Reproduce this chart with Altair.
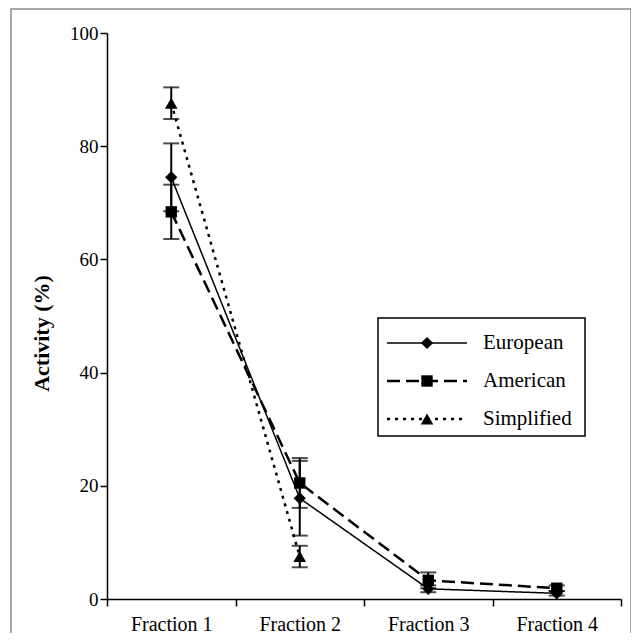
import altair as alt
import pandas as pd

categories = ["Fraction 1", "Fraction 2", "Fraction 3", "Fraction 4"]
series_names = ["European", "American", "Simplified"]
european = [74.5, 17.8, 1.8, 1.0]
european_err = [6.0, 6.6, 0.6, 0.4]
american = [68.4, 20.5, 3.3, 1.9]
american_err = [4.8, 4.4, 1.4, 0.5]
simplified = [87.6, 7.5]
simplified_err = [2.8, 1.9]
y_ticks = [0, 20, 40, 60, 80, 100]

rows = []
for name, vals, errs in zip(series_names, [european, american, simplified],
                            [european_err, american_err, simplified_err]):
    for cat, v, e in zip(categories, vals, errs):
        rows.append(dict(series=name, fraction=cat, value=v, lo=v - e, hi=v + e))
df = pd.DataFrame(rows)

FONT = "Times New Roman"
styles = {
    "European": dict(dash=[1, 0], width=1.5, shape="diamond", size=150),
    "American": dict(dash=[13, 6], width=2.5, shape="square", size=130),
    "Simplified": dict(dash=[3, 5], width=2.5, shape="triangle-up", size=160),
}

x_enc = alt.X("fraction:N", sort=categories,
              scale=alt.Scale(domain=categories, paddingInner=0, paddingOuter=0),
              axis=alt.Axis(title=None, tickBand="extent", labelAngle=0,
                            labelPadding=8, labelFontSize=20))
y_enc = alt.Y("value:Q", scale=alt.Scale(domain=[0, 100], nice=False),
              axis=alt.Axis(values=y_ticks, title="Activity (%)", labelPadding=2,
                            titlePadding=16, titleY=300, grid=False))

base = alt.Chart(df)
layers = []

# outer border
dummy = pd.DataFrame({"d": [0]})
layers.append(alt.Chart(dummy).mark_rect(fillOpacity=0, stroke="#8a8a8a", strokeWidth=1.5).encode(
    x=alt.value(-96), x2=alt.value(524), y=alt.value(-24), y2=alt.value(640)))

for name in series_names:
    st = styles[name]
    layers.append(base.transform_filter(alt.datum.series == name).mark_line(
        color="black", interpolate="linear", strokeDash=st["dash"], strokeWidth=st["width"]
    ).encode(x=x_enc, y=y_enc))

err = base.mark_rule(color="black", strokeWidth=2).encode(
    x=x_enc, y=alt.Y("lo:Q"), y2="hi:Q")
cap_hi = base.mark_tick(color="black", size=16, thickness=2).encode(x=x_enc, y=alt.Y("hi:Q"))
cap_lo = base.mark_tick(color="black", size=16, thickness=2).encode(x=x_enc, y=alt.Y("lo:Q"))
layers += [err, cap_hi, cap_lo]

for name in series_names:
    st = styles[name]
    layers.append(base.transform_filter(alt.datum.series == name).mark_point(
        filled=True, color="black", opacity=1, shape=st["shape"], size=st["size"]
    ).encode(x=x_enc, y=y_enc))

# legend (drawn manually)
layers.append(alt.Chart(dummy).mark_rect(fill="white", stroke="black", strokeWidth=1.5).encode(
    x=alt.value(271), x2=alt.value(478), y=alt.value(285), y2=alt.value(403)))
leg_y = [310, 348, 386]
for name, ly in zip(series_names, leg_y):
    st = styles[name]
    layers.append(alt.Chart(dummy).mark_rule(color="black", strokeDash=st["dash"],
                                             strokeWidth=st["width"]).encode(
        x=alt.value(280), x2=alt.value(360), y=alt.value(ly)))
    layers.append(alt.Chart(dummy).mark_point(filled=True, color="black", opacity=1,
                                              shape=st["shape"], size=st["size"]).encode(
        x=alt.value(320), y=alt.value(ly)))
    layers.append(alt.Chart(dummy).mark_text(text=name, font=FONT, fontSize=21, align="left",
                                             baseline="middle", color="black").encode(
        x=alt.value(376), y=alt.value(ly)))

chart = alt.layer(*layers).properties(
    width=514, height=566,
    padding={"left": 99, "top": 25, "right": 10, "bottom": 34},
    autosize=alt.AutoSizeParams(type="none"),
).configure_view(stroke=None).configure_axis(
    domainColor="black", tickColor="black", labelColor="black", titleColor="black",
    domainWidth=1.5, tickWidth=1.5, tickSize=7,
    labelFont=FONT, labelFontSize=19, titleFont=FONT, titleFontSize=22,
    titleFontWeight="bold",
).configure_text(font=FONT)

chart.save("out.html", embed_options={"renderer": "svg", "actions": False})
